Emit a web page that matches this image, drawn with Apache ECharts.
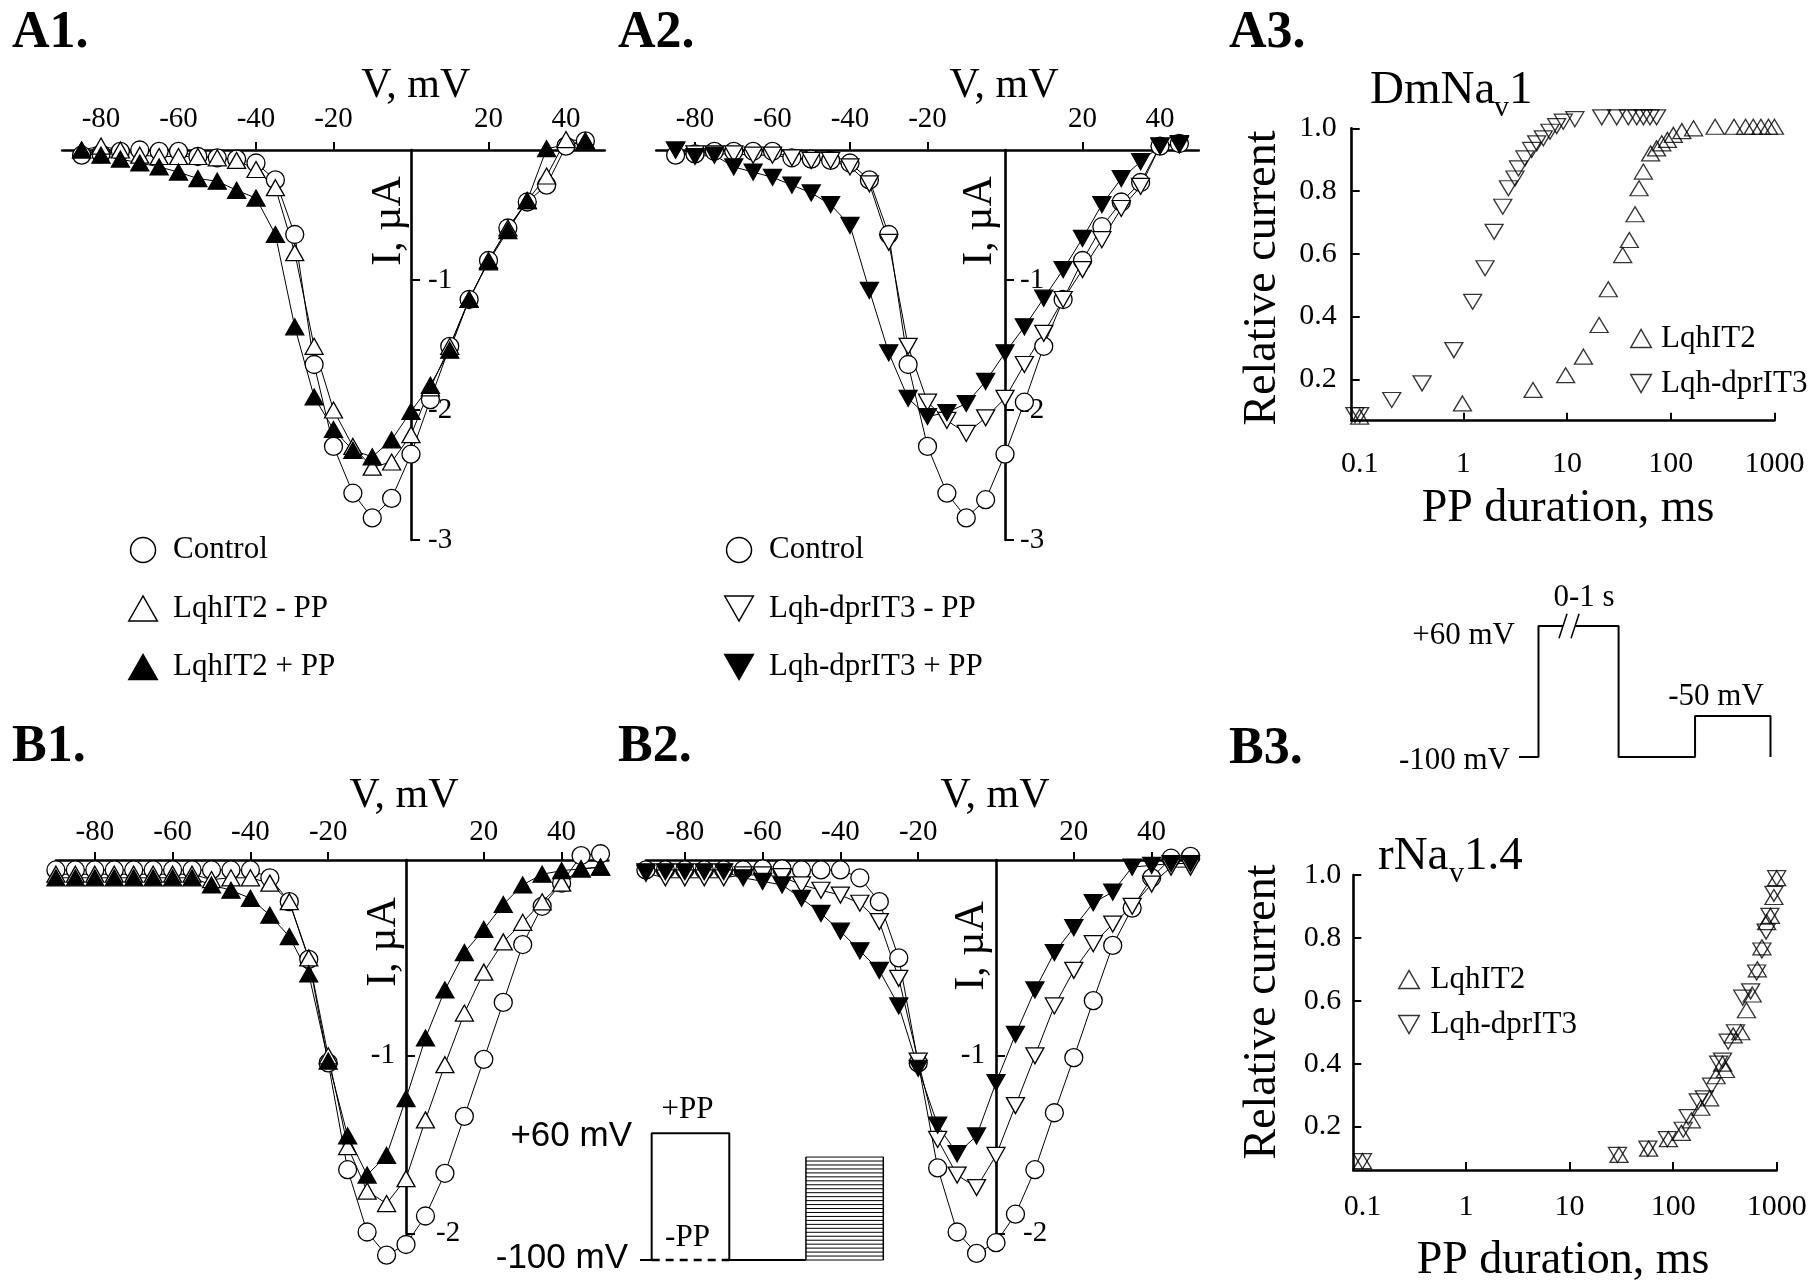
<!DOCTYPE html>
<html><head><meta charset="utf-8">
<script src="https://cdn.jsdelivr.net/npm/echarts@6/dist/echarts.min.js"></script>
<style>html,body{margin:0;padding:0;background:#fff}#c{width:1818px;height:1284px}</style>
</head><body><div id="c"></div>
<script>
// ---------------- data ----------------
const V_A = [-85,-80,-75,-70,-65,-60,-55,-50,-45,-40,-35,-30,-25,-20,-15,-10,-5,0,5,10,15,20,25,30,35,40,45];
const V_B = [-90,-85,-80,-75,-70,-65,-60,-55,-50,-45,-40,-35,-30,-25,-20,-15,-10,-5,0,5,10,15,20,25,30,35,40,45,50];

const A1_control = [-0.04,-0.03,-0.01,0,-0.01,-0.01,-0.05,-0.06,-0.07,-0.10,-0.23,-0.65,-1.65,-2.28,-2.64,-2.83,-2.68,-2.34,-1.92,-1.51,-1.15,-0.85,-0.60,-0.40,-0.27,0.03,0.07];
const A1_minusPP = [0,0.03,0,-0.04,-0.05,-0.05,-0.05,-0.06,-0.08,-0.15,-0.29,-0.79,-1.51,-2.00,-2.28,-2.44,-2.40,-2.19,-1.83,-1.51,-1.15,-0.85,-0.60,-0.39,-0.20,0.08,0.07];
const A1_plusPP  = [0,-0.04,-0.07,-0.10,-0.13,-0.17,-0.22,-0.24,-0.31,-0.37,-0.65,-1.36,-1.90,-2.15,-2.31,-2.36,-2.23,-2.01,-1.81,-1.54,-1.15,-0.86,-0.62,-0.39,0.01,null,0.07];

const A2_control = [-0.04,-0.03,-0.01,-0.01,-0.01,-0.01,-0.06,-0.07,-0.08,-0.10,-0.23,-0.65,-1.65,-2.28,-2.64,-2.83,-2.69,-2.34,-1.94,-1.51,-1.15,-0.85,-0.59,-0.40,-0.25,0.03,0.05];
const A2_minusPP = [0,-0.03,-0.03,-0.03,-0.04,-0.04,-0.06,-0.08,-0.08,-0.13,-0.26,-0.71,-1.51,-1.94,-2.08,-2.18,-2.06,-1.91,-1.65,-1.41,-1.15,-0.92,-0.69,-0.45,-0.28,0.03,0.04];
const A2_plusPP  = [0,-0.05,-0.04,-0.13,-0.17,-0.21,-0.27,-0.33,-0.42,-0.58,-1.08,-1.56,-1.91,-2.05,-2.02,-1.95,-1.78,-1.56,-1.36,-1.14,-0.92,-0.68,-0.42,-0.22,-0.09,0.03,0.05];

const B1_control = [0.044,0.044,0.044,0.044,0.044,0.044,0.044,0.044,0.044,0.044,0.044,0.0,-0.134,-0.458,-1.04,-1.64,-1.99,-2.12,-2.06,-1.90,-1.66,-1.34,-1.02,-0.70,-0.375,-0.16,-0.03,0.125,0.135];
const B1_minusPP = [0.02,0.02,0.02,0.02,0.02,0.02,0.02,0.02,-0.01,0.0,0.0,-0.03,-0.134,-0.45,-1.0,-1.51,-1.76,-1.83,-1.69,-1.36,-1.05,-0.76,-0.53,-0.36,-0.25,-0.135,-0.03,0.05,0.06];
const B1_plusPP  = [0,0,0,0,0,0,0,0,-0.04,-0.07,-0.115,-0.21,-0.33,-0.54,-1.03,-1.45,-1.67,-1.56,-1.24,-0.90,-0.63,-0.42,-0.29,-0.15,-0.04,0.02,0.04,0.05,0.06];

const B2_control = [0.044,0.044,0.044,0.044,0.044,0.044,0.05,0.05,0.044,0.044,0.044,0.0,-0.134,-0.45,-1.04,-1.63,-1.99,-2.11,-2.05,-1.89,-1.64,-1.32,-1.01,-0.69,-0.38,-0.17,0.0,0.11,0.12];
const B2_minusPP = [0.025,0,0,0,0,0.016,0.016,0.006,-0.04,-0.07,-0.097,-0.143,-0.246,-0.565,-1.03,-1.47,-1.67,-1.74,-1.56,-1.28,-1.0,-0.72,-0.52,-0.37,-0.26,-0.16,-0.035,0.06,0.06];
const B2_plusPP  = [0.034,0.034,0.034,0.034,0.034,0.0,-0.02,-0.04,-0.115,-0.2,-0.30,-0.41,-0.52,-0.72,-1.07,-1.39,-1.55,-1.45,-1.15,-0.88,-0.63,-0.42,-0.28,-0.14,-0.08,0.06,0.07,0.08,0.08];

const A3_it2_t = [0.1,0.98,4.7,9.7,14.4,20.4,25,34.4,39.9,45.3,49.5,54.5,64,73,82,93,106,128,166,268,408,527,625,741,877,1000];
const A3_it2_r = [0.081,0.123,0.166,0.213,0.272,0.373,0.487,0.596,0.644,0.726,0.809,0.862,0.920,0.936,0.952,0.963,0.979,0.991,1.000,1.005,1.005,1.005,1.005,1.005,1.005,1.005];
const A3_dpr_t = [0.09,0.1,0.204,0.40,0.81,1.23,1.62,1.98,2.4,2.72,3.15,3.4,3.93,4.56,5.1,5.9,6.85,7.94,9.2,11.9,21.6,30.1,39,47,54.5,63,73];
const A3_dpr_r = [0.086,0.086,0.134,0.187,0.293,0.447,0.554,0.670,0.750,0.809,0.840,0.872,0.904,0.931,0.952,0.968,0.989,1.007,1.021,1.029,1.035,1.035,1.035,1.035,1.035,1.035,1.035];

const B3_it2_t = [0.1,30,58,90,120,150,185,225,260,300,320,380,450,510,580,650,720,800,870,940,1000];
const B3_it2_r = [0.09,0.11,0.13,0.16,0.18,0.22,0.26,0.29,0.36,0.40,0.38,0.49,0.50,0.57,0.62,0.70,0.77,0.85,0.87,0.93,0.99];
const B3_dpr_t = [0.1,29,57,88,125,140,175,200,235,275,300,340,400,470,560,640,720,790,860,940,1000];
const B3_dpr_r = [0.09,0.11,0.13,0.16,0.19,0.23,0.28,0.29,0.33,0.40,0.41,0.47,0.50,0.61,0.63,0.69,0.76,0.82,0.87,0.94,0.99];

const IV_xTicks = [-80,-60,-40,-20,20,40];
const A_yTicks = [-1,-2,-3];
const LOG_labels = [0.1,1,10,100,1000];
const LOG_ticks = [1,10,100,1000];
const REL_ticks = [0.2,0.4,0.6,0.8,1.0];

// voltage protocol schematics (arbitrary time units, mV)
const protoB_t = [0,4.8,4.8,36.7,36.7,68.2];
const protoB_v = [-100,-100,60,60,-100,-100];
const protoB_minusT = [4.8,36.7];
const protoB_minusV = [-100,-100];
const protoB_testT = [68.2,100];
const protoB_levels = [-100,-95,-90,-85,-80,-75,-70,-65,-60,-55,-50,-45,-40,-35,-30,-25,-20,-15,-10,-5,0,5,10,15,20,25,30];
const protoB3_t1 = [0,7.75,7.75,17.5];
const protoB3_v1 = [-100,-100,60,60];
const protoB3_t2 = [22.3,39.6,39.6,70,70,100,100];
const protoB3_v2 = [60,60,-100,-100,-50,-50,-100];
const protoB3_break1 = [[15.9,45],[19.1,75]];
const protoB3_break2 = [[20.7,45],[23.9,75]];

// ---------------- chart ----------------
const SERIF = 'Liberation Serif';
const SANS = 'Liberation Sans';
const chart = echarts.init(document.getElementById('c'), null, {renderer: 'canvas'});

const G = [
  {left: 62.25, top: 150, width: 542.5, height: 390},      // 0 A1
  {left: 656.25, top: 150, width: 542.5, height: 390},     // 1 A2
  {left: 1351.7, top: 128.3, width: 422.7, height: 292.4}, // 2 A3
  {left: 55.9, top: 860, width: 552.4, height: 373.8},     // 3 B1
  {left: 645.9, top: 860, width: 552.4, height: 373.8},    // 4 B2
  {left: 1353.3, top: 875, width: 423.4, height: 295},     // 5 B3
  {left: 640, top: 1133.3, width: 243.3, height: 126.7},   // 6 B protocol
  {left: 1519, top: 626, width: 251.5, height: 131}        // 7 B3 protocol
];
const grids = G.map(g => Object.assign({containLabel: false, outerBoundsMode: 'none'}, g));
// x pixel of V = 0 in each IV grid
const zeroX = {0: 411, 1: 1005, 3: 406, 4: 996};

const AX = {color: '#000', width: 2.6};
const lbl = (size, margin, extra) => Object.assign({color: '#000', fontFamily: SERIF, fontSize: size, margin}, extra || {});

function ivX(gi, max, margin) {
  return {type: 'value', gridIndex: gi, min: -90, max, position: 'top',
    axisLine: {onZero: false, lineStyle: AX},
    axisTick: {length: 8, lineStyle: {color: '#000', width: 2}, customValues: IV_xTicks},
    axisLabel: lbl(29, margin, {customValues: IV_xTicks}),
    splitLine: {show: false}};
}
function ivY(gi, min, max, labels, ticks, margin) {
  const right = G[gi].left + G[gi].width;
  return {type: 'value', gridIndex: gi, min, max, position: 'right', offset: zeroX[gi] - right,
    axisLine: {onZero: false, lineStyle: AX},
    axisTick: {length: 9, lineStyle: {color: '#000', width: 2}, customValues: ticks},
    axisLabel: lbl(29, margin, {customValues: labels}),
    splitLine: {show: false}};
}
function ivYLeft(gi, min, max, labels, margin) {
  return {type: 'value', gridIndex: gi, min, max, position: 'left', offset: G[gi].left - zeroX[gi],
    axisLine: {show: false, onZero: false}, axisTick: {show: false},
    axisLabel: lbl(29, margin, {customValues: labels}),
    splitLine: {show: false}};
}
function logX(gi, min, margin) {
  return {type: 'log', logBase: 10, gridIndex: gi, min, max: 1000, position: 'bottom',
    axisLine: {onZero: false, lineStyle: AX},
    axisTick: {inside: true, length: 8, lineStyle: {color: '#000', width: 2}, customValues: LOG_ticks},
    axisLabel: lbl(30, margin, {customValues: LOG_labels, formatter: v => (v < 1 ? Number(v).toFixed(1) : String(Math.round(v)))}),
    splitLine: {show: false}, minorTick: {show: false}};
}
function relY(gi, min, margin) {
  return {type: 'value', gridIndex: gi, min, max: 1.0, position: 'left',
    axisLine: {onZero: false, lineStyle: AX},
    axisTick: {inside: true, length: 8, lineStyle: {color: '#000', width: 2}, customValues: REL_ticks},
    axisLabel: lbl(30, margin, {customValues: REL_ticks, formatter: v => Number(v).toFixed(1)}),
    splitLine: {show: false}};
}
function hidden(gi, min, max) {
  return {type: 'value', gridIndex: gi, min, max, show: false, splitLine: {show: false}};
}

const xAxes = [ivX(0, 50, 16), ivX(1, 50, 16), logX(2, 0.0838, 28), ivX(3, 52, 13), ivX(4, 52, 13), logX(5, 0.0815, 22), hidden(6, 0, 100), hidden(7, 0, 100)];
const yAxes = [
  ivY(0, -3, 0, A_yTicks, A_yTicks, 17),
  ivY(1, -3, 0, A_yTicks, A_yTicks, 15),
  relY(2, 0.068, 15),
  ivY(3, -2, 0.1, [-2], [-1, -2], 30),
  ivY(4, -2, 0.1, [-2], [-1, -2], 27),
  relY(5, 0.062, 12),
  hidden(6, -100, 60),
  hidden(7, -100, 60),
  ivYLeft(3, -2, 0.1, [-1], 11),
  ivYLeft(4, -2, 0.1, [-1], 11)
];

const UP = 'path://M0,21L12,0L24,21Z';
const DOWN = 'path://M0,0L24,0L12,21Z';
const OPEN = {color: '#fff', borderColor: '#000', borderWidth: 1.5};
const FILLED = {color: '#000', borderColor: '#000', borderWidth: 1.5};

function iv(name, gi, V, I, sym, fill, down) {
  return {type: 'line', name, xAxisIndex: gi, yAxisIndex: gi,
    data: V.map((v, k) => [v, I[k]]),
    symbol: sym === 'circle' ? 'circle' : 'triangle',
    symbolSize: sym === 'circle' ? 18 : [18, 16], symbolRotate: down ? 180 : 0,
    connectNulls: true, clip: false, animation: false, silent: true,
    lineStyle: {color: '#000', width: 1},
    itemStyle: {color: fill, borderColor: '#000', borderWidth: 1.3},
    emphasis: {disabled: true}};
}
function rel(name, gi, T, R, down) {
  return {type: 'scatter', name, xAxisIndex: gi, yAxisIndex: gi,
    data: T.map((t, k) => [t, R[k]]), symbol: 'triangle', symbolSize: [18, 15], symbolRotate: down ? 180 : 0,
    clip: false, animation: false, silent: true,
    itemStyle: {color: 'rgba(255,255,255,0)', borderColor: '#000', borderWidth: 1.3},
    emphasis: {disabled: true}};
}
function proto(gi, pts, width, dashed) {
  return {type: 'line', xAxisIndex: gi, yAxisIndex: gi, data: pts, symbol: 'none', clip: false,
    animation: false, silent: true,
    lineStyle: {color: '#000', width, type: dashed ? [8, 6] : 'solid'}};
}
const zip = (a, b) => a.map((x, k) => [x, b[k]]);

const series = [
  iv('Control', 0, V_A, A1_control, 'circle', '#fff'),
  iv('LqhIT2 - PP', 0, V_A, A1_minusPP, 'tri', '#fff'),
  iv('LqhIT2 + PP', 0, V_A, A1_plusPP, 'tri', '#000'),
  iv('Control', 1, V_A, A2_control, 'circle', '#fff'),
  iv('Lqh-dprIT3 - PP', 1, V_A, A2_minusPP, 'tri', '#fff', true),
  iv('Lqh-dprIT3 + PP', 1, V_A, A2_plusPP, 'tri', '#000', true),
  rel('LqhIT2', 2, A3_it2_t, A3_it2_r, false),
  rel('Lqh-dprIT3', 2, A3_dpr_t, A3_dpr_r, true),
  iv('Control', 3, V_B, B1_control, 'circle', '#fff'),
  iv('LqhIT2 - PP', 3, V_B, B1_minusPP, 'tri', '#fff'),
  iv('LqhIT2 + PP', 3, V_B, B1_plusPP, 'tri', '#000'),
  iv('Control', 4, V_B, B2_control, 'circle', '#fff'),
  iv('Lqh-dprIT3 - PP', 4, V_B, B2_minusPP, 'tri', '#fff', true),
  iv('Lqh-dprIT3 + PP', 4, V_B, B2_plusPP, 'tri', '#000', true),
  rel('LqhIT2', 5, B3_it2_t, B3_it2_r, false),
  rel('Lqh-dprIT3', 5, B3_dpr_t, B3_dpr_r, true),
  proto(6, zip(protoB_t, protoB_v), 2),
  proto(6, zip(protoB_minusT, protoB_minusV), 2.5, true),
  proto(7, zip(protoB3_t1, protoB3_v1), 2),
  proto(7, zip(protoB3_t2, protoB3_v2), 2),
  proto(7, protoB3_break1, 1.5),
  proto(7, protoB3_break2, 1.5)
];
const topLevel = protoB_levels[protoB_levels.length - 1];
protoB_levels.forEach(L => series.push(proto(6, [[protoB_testT[0], L], [protoB_testT[1], L]], 1)));
series.push(proto(6, [[protoB_testT[0], -100], [protoB_testT[0], topLevel]], 1.5));
series.push(proto(6, [[protoB_testT[1], topLevel], [protoB_testT[1], -100]], 1.5));

function legend(left, top, w, h, gap, items) {
  return {orient: 'vertical', left, top, itemWidth: w, itemHeight: h, itemGap: gap, padding: 0,
    selectedMode: false, symbolKeepAspect: true,
    textStyle: {color: '#000', fontFamily: SERIF, fontSize: 31},
    data: items.map(([name, icon, st]) => ({name, icon, itemStyle: st}))};
}
const legends = [
  legend(128, 534.5, 50, 25, 27.5, [['Control', 'circle', OPEN], ['LqhIT2 - PP', UP, OPEN], ['LqhIT2 + PP', UP, FILLED]]),
  legend(724, 534.5, 50, 25, 27.5, [['Control', 'circle', OPEN], ['Lqh-dprIT3 - PP', DOWN, OPEN], ['Lqh-dprIT3 + PP', DOWN, FILLED]]),
  legend(1630, 323, 30, 18, 14, [['LqhIT2', UP, OPEN], ['Lqh-dprIT3', DOWN, OPEN]]),
  legend(1398, 964, 33, 18, 14, [['LqhIT2', UP, OPEN], ['Lqh-dprIT3', DOWN, OPEN]])
];

function T(text, x, y, size, o) {
  o = o || {};
  const align = o.align || 'center';
  const fam = o.fam || SERIF;
  return {type: 'text', x, y, rotation: o.rot || 0, silent: true, z: 100,
    style: {text, x: 0, y: 0, fill: '#000',
      font: (o.bold ? 'bold ' : '') + size + 'px "' + fam + '"',
      align, verticalAlign: 'middle', textAlign: align, textVerticalAlign: 'middle'}};
}
const R90 = Math.PI / 2;
const graphics = [
  T('A1.', 12, 34, 52, {bold: true, align: 'left'}),
  T('A2.', 618, 34, 52, {bold: true, align: 'left'}),
  T('A3.', 1229, 34, 52, {bold: true, align: 'left'}),
  T('B1.', 12, 748, 52, {bold: true, align: 'left'}),
  T('B2.', 618, 748, 52, {bold: true, align: 'left'}),
  T('B3.', 1229, 750, 52, {bold: true, align: 'left'}),
  T('V, mV', 415.8, 86, 42), T('V, mV', 1004, 86, 42),
  T('V, mV', 404, 796, 42), T('V, mV', 995, 796, 42),
  T('I, µA', 389, 221, 42, {rot: R90}), T('I, µA', 980, 221, 42, {rot: R90}),
  T('I, µA', 383.5, 942, 42, {rot: R90}), T('I, µA', 971.5, 946, 42, {rot: R90}),
  T('Relative current', 1262.5, 278, 46, {rot: R90}),
  T('Relative current', 1262.5, 1012, 46, {rot: R90}),
  T('PP duration, ms', 1568, 509, 46),
  T('PP duration, ms', 1563, 1261, 46),
  T('DmNa', 1370, 91, 47, {align: 'left'}), T('v', 1494, 108, 30, {align: 'left'}), T('1', 1509, 91, 47, {align: 'left'}),
  T('rNa', 1378, 856.7, 47, {align: 'left'}), T('v', 1449, 874, 30, {align: 'left'}), T('1.4', 1464, 856.7, 47, {align: 'left'}),
  T('+60 mV', 632, 1136, 35, {fam: SANS, align: 'right'}),
  T('-100 mV', 628, 1258, 35, {fam: SANS, align: 'right'}),
  T('+PP', 687.5, 1109.5, 31), T('-PP', 687.5, 1237.5, 31),
  T('+60 mV', 1515, 636, 31, {align: 'right'}),
  T('-100 mV', 1510, 761, 31, {align: 'right'}),
  T('0-1 s', 1584, 598, 31),
  T('-50 mV', 1716, 697, 31)
];

chart.setOption({
  backgroundColor: '#fff',
  animation: false,
  textStyle: {fontFamily: SERIF, color: '#000'},
  grid: grids, xAxis: xAxes, yAxis: yAxes, series, legend: legends,
  graphic: {elements: graphics}
});
</script></body></html>
